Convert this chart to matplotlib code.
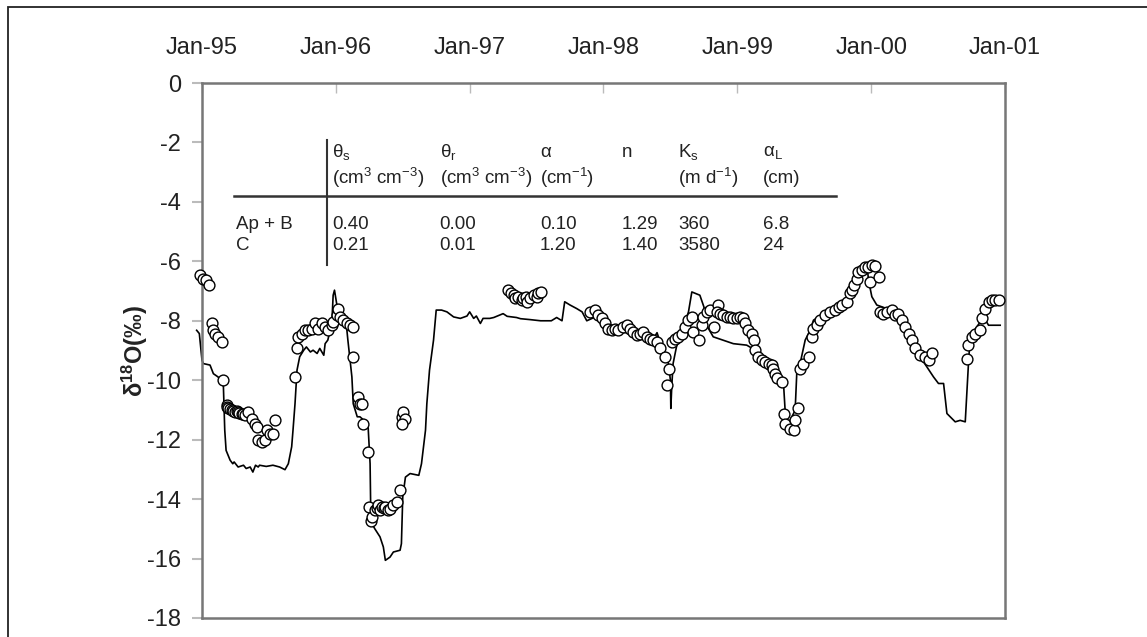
import matplotlib
matplotlib.use('Agg')
import matplotlib.pyplot as plt
from matplotlib.patches import Rectangle

plt.rcParams['font.family'] = ['Liberation Sans', 'DejaVu Sans']
plt.rcParams['mathtext.fontset'] = 'custom'
plt.rcParams['mathtext.rm'] = 'Liberation Sans'
plt.rcParams['mathtext.it'] = 'Liberation Sans:italic'
plt.rcParams['mathtext.bf'] = 'Liberation Sans:bold'
plt.rcParams['axes.unicode_minus'] = False

# time axis (decimal years), labelled on top
year_ticks = [1995, 1996, 1997, 1998, 1999, 2000, 2001]
year_labels = ['Jan-95', 'Jan-96', 'Jan-97', 'Jan-98', 'Jan-99', 'Jan-00', 'Jan-01']

# simulated d18O (line)
sim_t = [1994.96, 1994.98, 1995.00, 1995.01, 1995.06, 1995.085, 1995.12, 1995.15, 1995.16, 1995.17,
         1995.18, 1995.21, 1995.23, 1995.24, 1995.27, 1995.31, 1995.33, 1995.36, 1995.38, 1995.40,
         1995.42, 1995.43, 1995.48, 1995.53, 1995.58, 1995.62, 1995.645, 1995.67, 1995.68, 1995.695,
         1995.71, 1995.73, 1995.76, 1995.78, 1995.81, 1995.83, 1995.86, 1995.88, 1995.91, 1995.92,
         1995.94, 1995.97, 1995.98, 1995.99, 1996.01, 1996.03, 1996.06, 1996.08, 1996.09, 1996.12,
         1996.13, 1996.16, 1996.18, 1996.21, 1996.24, 1996.256, 1996.26, 1996.27, 1996.29, 1996.33,
         1996.355, 1996.37, 1996.405, 1996.43, 1996.48, 1996.49, 1996.50, 1996.52, 1996.555, 1996.62,
         1996.64, 1996.655, 1996.67, 1996.68, 1996.70, 1996.73, 1996.75, 1996.79, 1996.83, 1996.88,
         1996.93, 1996.98, 1997.00, 1997.03, 1997.05, 1997.08, 1997.10, 1997.15, 1997.18, 1997.25,
         1997.28, 1997.35, 1997.38, 1997.45, 1997.53, 1997.61, 1997.65, 1997.69, 1997.71, 1997.75,
         1997.80, 1997.84, 1997.875, 1997.95, 1998.02, 1998.07, 1998.17, 1998.27, 1998.37, 1998.40,
         1998.435, 1998.47, 1998.485, 1998.50, 1998.503, 1998.51, 1998.52, 1998.55, 1998.60, 1998.635,
         1998.66, 1998.72, 1998.75, 1998.77, 1998.82, 1998.97, 1999.07, 1999.12, 1999.17, 1999.25,
         1999.32, 1999.345, 1999.357, 1999.37, 1999.432, 1999.444, 1999.469, 1999.507, 1999.544, 1999.569,
         1999.644, 1999.718, 1999.818, 1999.893, 1999.93, 1999.968, 1999.98, 2000.005, 2000.042, 2000.117,
         2000.167, 2000.192, 2000.242, 2000.316, 2000.366, 2000.416, 2000.466, 2000.503, 2000.541, 2000.566,
         2000.59, 2000.628, 2000.665, 2000.703, 2000.727, 2000.74, 2000.79, 2000.84, 2000.877, 2000.964]
sim_d18o = [-8.32, -8.43, -9.33, -9.44, -9.49, -9.78, -9.89, -10.06, -10.22, -11.68,
            -12.36, -12.69, -12.81, -12.75, -12.92, -12.86, -12.97, -12.92, -13.09, -12.86,
            -12.92, -12.86, -12.90, -12.86, -12.92, -13.01, -12.81, -12.24, -11.68, -10.79,
            -9.66, -9.21, -8.99, -8.88, -9.05, -8.99, -9.10, -8.93, -9.16, -8.77,
            -8.65, -8.09, -7.14, -6.97, -7.53, -7.75, -7.87, -8.20, -8.65, -9.89,
            -10.79, -11.23, -11.23, -11.35, -11.46, -12.81, -14.15, -14.82, -14.99, -15.27,
            -15.61, -16.06, -15.95, -15.78, -15.72, -15.50, -13.93, -13.26, -13.14, -13.20,
            -12.81, -12.24, -11.68, -10.79, -9.66, -8.65, -7.64, -7.64, -7.70, -7.87,
            -7.92, -7.84, -7.70, -7.92, -7.84, -8.09, -7.92, -7.92, -7.89, -7.76,
            -7.85, -7.89, -7.93, -7.96, -8.00, -8.00, -7.89, -8.00, -7.36, -7.47,
            -7.59, -7.70, -8.00, -7.85, -8.15, -8.35, -8.40, -8.55, -8.62, -8.40,
            -8.88, -9.21, -9.44, -10.00, -10.95, -10.22, -9.44, -8.77, -8.20, -7.70,
            -7.03, -7.14, -7.53, -8.15, -8.54, -8.77, -8.82, -8.95, -9.20, -9.50,
            -9.78, -10.11, -11.01, -11.57, -11.01, -9.78, -9.44, -8.65, -8.32, -7.98,
            -7.76, -7.59, -7.36, -6.63, -6.24, -6.07, -6.63, -7.19, -7.47, -7.59,
            -7.53, -7.76, -8.20, -8.77, -9.21, -9.55, -9.89, -10.11, -10.11, -11.12,
            -11.23, -11.40, -11.35, -11.40, -9.44, -8.54, -8.20, -7.87, -8.15, -8.15]

# measured d18O (open circles)
obs_t = [1994.985, 1995.005, 1995.03, 1995.055, 1995.072, 1995.08, 1995.097, 1995.122, 1995.147, 1995.159,
         1995.184, 1995.19, 1995.197, 1995.21, 1995.222, 1995.23, 1995.247, 1995.26, 1995.272, 1995.28,
         1995.296, 1995.31, 1995.321, 1995.346, 1995.371, 1995.396, 1995.409, 1995.421, 1995.446, 1995.471,
         1995.483, 1995.508, 1995.533, 1995.546,
         1995.695, 1995.708, 1995.72, 1995.745, 1995.77, 1995.795, 1995.82, 1995.845, 1995.869, 1995.894,
         1995.919, 1995.944, 1995.969, 1995.982, 1996.006, 1996.019, 1996.031, 1996.056, 1996.081, 1996.106,
         1996.126, 1996.131, 1996.168, 1996.181, 1996.193, 1996.206, 1996.243, 1996.251, 1996.26, 1996.268,
         1996.293, 1996.31, 1996.318, 1996.33, 1996.343, 1996.36, 1996.368, 1996.39, 1996.405, 1996.43,
         1996.455, 1996.48, 1996.492, 1996.505, 1996.517, 1996.492,
         1997.29, 1997.31, 1997.33, 1997.34, 1997.36, 1997.39, 1997.40, 1997.42, 1997.43, 1997.45,
         1997.48, 1997.50, 1997.51, 1997.53,
         1997.90, 1997.937, 1997.962, 1997.987, 1998.012, 1998.037, 1998.062, 1998.087, 1998.112, 1998.149,
         1998.174, 1998.199, 1998.224, 1998.249, 1998.274, 1998.298, 1998.323, 1998.348, 1998.373, 1998.398,
         1998.423, 1998.46, 1998.493, 1998.473, 1998.51, 1998.535, 1998.56, 1998.585, 1998.61, 1998.635,
         1998.66, 1998.672, 1998.71, 1998.734, 1998.747, 1998.772, 1998.797, 1998.822, 1998.859, 1998.847,
         1998.871, 1998.896, 1998.921, 1998.946, 1998.971, 1998.996, 1999.021, 1999.046, 1999.058, 1999.083,
         1999.108, 1999.121, 1999.133, 1999.158, 1999.183, 1999.208, 1999.233, 1999.258, 1999.27, 1999.283,
         1999.295, 1999.332, 1999.345, 1999.357, 1999.395, 1999.42, 1999.432, 1999.457, 1999.469, 1999.494,
         1999.532,
         1999.557, 1999.569, 1999.594, 1999.619, 1999.656, 1999.694, 1999.731, 1999.756, 1999.781, 1999.818,
         1999.843, 1999.855, 1999.868, 1999.893, 1999.905, 1999.93, 1999.955, 1999.98, 2000.005, 2000.03,
         1999.993, 2000.055, 2000.067, 2000.092, 2000.117, 2000.154, 2000.179, 2000.202, 2000.229, 2000.254,
         2000.279, 2000.304, 2000.329, 2000.366, 2000.404, 2000.429, 2000.453,
         2000.715, 2000.727, 2000.752, 2000.777, 2000.815, 2000.827, 2000.852, 2000.877, 2000.902, 2000.927,
         2000.952]
obs_d18o = [-6.46, -6.58, -6.63, -6.80, -8.09, -8.32, -8.43, -8.54, -8.71, -9.98,
            -10.84, -10.90, -10.95, -10.98, -11.01, -11.03, -11.07, -11.05, -11.07, -11.10,
            -11.12, -11.12, -11.18, -11.07, -11.29, -11.46, -11.57, -12.02, -12.08, -12.02,
            -11.68, -11.80, -11.80, -11.35,
            -9.89, -8.93, -8.54, -8.43, -8.32, -8.32, -8.26, -8.09, -8.26, -8.09,
            -8.20, -8.32, -8.15, -8.04, -7.81, -7.59, -7.87, -7.98, -8.09, -8.15,
            -8.20, -9.21, -10.56, -10.79, -10.79, -11.46, -12.41, -14.26, -14.75, -14.60,
            -14.38, -14.30, -14.21, -14.35, -14.26, -14.30, -14.26, -14.38, -14.32, -14.21,
            -14.10, -13.70, -11.23, -11.07, -11.29, -11.46,
            -6.97, -7.08, -7.14, -7.25, -7.19, -7.31, -7.25, -7.19, -7.36, -7.25,
            -7.14, -7.19, -7.08, -7.03,
            -7.70, -7.64, -7.81, -7.92, -8.09, -8.26, -8.32, -8.26, -8.32, -8.20,
            -8.15, -8.26, -8.37, -8.48, -8.43, -8.37, -8.54, -8.60, -8.65, -8.71,
            -8.93, -9.21, -9.61, -10.17, -8.71, -8.60, -8.54, -8.43, -8.20, -7.98,
            -7.87, -8.37, -8.65, -8.15, -7.87, -7.70, -7.64, -8.20, -7.47, -7.70,
            -7.76, -7.81, -7.87, -7.87, -7.92, -7.92, -7.87, -7.92, -8.09, -8.32,
            -8.43, -8.65, -8.99, -9.21, -9.33, -9.38, -9.44, -9.49, -9.61, -9.78,
            -9.94, -10.06, -11.12, -11.46, -11.63, -11.68, -11.35, -10.95, -9.61, -9.44,
            -9.21,
            -8.54, -8.26, -8.15, -7.98, -7.81, -7.70, -7.64, -7.53, -7.47, -7.36,
            -7.08, -6.97, -6.80, -6.58, -6.35, -6.30, -6.18, -6.18, -6.13, -6.16,
            -6.69, -6.52, -7.70, -7.76, -7.70, -7.64, -7.81, -7.76, -7.98, -8.20,
            -8.43, -8.65, -8.93, -9.16, -9.21, -9.33, -9.10,
            -9.27, -8.82, -8.54, -8.43, -8.32, -7.92, -7.59, -7.36, -7.31, -7.31,
            -7.31]

# inset table of model parameters
col_heads = [r'θ$_{\rm s}$', r'θ$_{\rm r}$', 'α', 'n', r'K$_{\rm s}$', r'α$_{\rm L}$']
col_units = [r'(cm$^3$ cm$^{-3}$)', r'(cm$^3$ cm$^{-3}$)', r'(cm$^{-1}$)', '', r'(m d$^{-1}$)', '(cm)']
row_names = ['Ap + B', 'C']
row_ApB = ['0.40', '0.00', '0.10', '1.29', '360', '6.8']
row_C = ['0.21', '0.01', '1.20', '1.40', '3580', '24']

fig = plt.figure(figsize=(11.47, 6.37), dpi=100)
ax = fig.add_axes([202/1147, 1 - 618/637, 803/1147, 535/637])

# frame around the whole figure (only top and left are inside the image)
fig.add_artist(Rectangle((8/1147, -0.2), 1.2, 1.2 - 7/637, transform=fig.transFigure,
                         fill=False, edgecolor='#222222', lw=1.3, clip_on=False))

ax.plot(sim_t, sim_d18o, color='black', lw=1.2, clip_on=False, zorder=2)
ax.plot(obs_t, obs_d18o, 'o', ms=7.8, mfc='white', mec='black', mew=1.0, clip_on=False, zorder=3)

ax.set_xlim(1995, 2001)
ax.set_ylim(-18, 0)
ax.set_yticks(range(-18, 1, 2))
ax.set_xticks(year_ticks)
ax.set_xticklabels(year_labels)
ax.xaxis.tick_top()
ax.tick_params(axis='x', direction='in', length=7, width=1, color='#bbbbbb', pad=17,
               labelsize=17, labelcolor='#222222')
ax.tick_params(axis='y', direction='out', length=7, width=1.5, color='#bbbbbb', pad=8,
               labelsize=17, labelcolor='#222222')
for s in ax.spines.values():
    s.set_color('#777777')
    s.set_linewidth(1.8)

ax.set_ylabel(r'δ$^{\mathbf{18}}$O(‰)', fontsize=17, fontweight='bold', color='#222222')
ax.yaxis.set_label_coords(-0.065, 0.5)

# table
col_x = [0.162, 0.296, 0.421, 0.523, 0.593, 0.699]
tk = dict(transform=ax.transAxes, fontsize=13.5, color='#222222', ha='left', va='center')
for i in range(len(col_heads)):
    ax.text(col_x[i], 0.871, col_heads[i], **tk)
    ax.text(col_x[i], 0.822, col_units[i], **tk)
    ax.text(col_x[i], 0.735, row_ApB[i], **tk)
    ax.text(col_x[i], 0.697, row_C[i], **tk)
ax.text(0.042, 0.735, row_names[0], **tk)
ax.text(0.042, 0.697, row_names[1], **tk)
ax.plot([0.040, 0.790], [0.789, 0.789], color='#333333', lw=1.8, transform=ax.transAxes)
ax.plot([0.1557, 0.1557], [0.660, 0.8935], color='#333333', lw=1.5, transform=ax.transAxes)

fig.savefig('out.png', dpi=100)
